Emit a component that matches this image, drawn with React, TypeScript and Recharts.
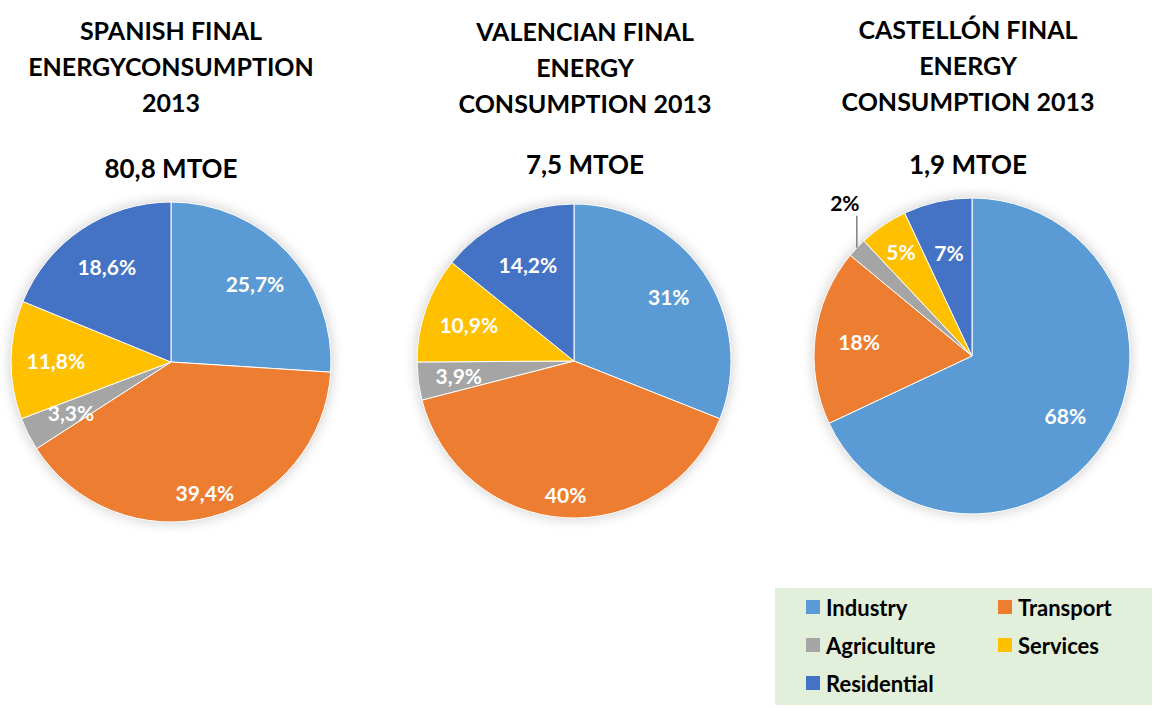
import { Cell, Pie, PieChart } from "recharts";

const categories = ["Industry", "Transport", "Agriculture", "Services", "Residential"];
const colors = ["#5b9bd5", "#ed7d31", "#a5a5a5", "#ffc000", "#4472c4"];

const spainValues = [25.7, 39.4, 3.3, 11.8, 18.6];
const valenciaValues = [31, 40, 3.9, 10.9, 14.2];
const castellonValues = [68, 18, 2, 5, 7];

const spainTitle = ["SPANISH FINAL", "ENERGYCONSUMPTION", "2013"];
const valenciaTitle = ["VALENCIAN FINAL", "ENERGY", "CONSUMPTION 2013"];
const castellonTitle = ["CASTELLÓN FINAL", "ENERGY", "CONSUMPTION 2013"];
const totals = ["80,8 MTOE", "7,5 MTOE", "1,9 MTOE"];

const FONT = "Lato, 'Open Sans', sans-serif";

// layout for each pie: centre, radius, title centre, how far out each label sits
const pies = [
  {
    key: "spain",
    values: spainValues,
    title: spainTitle,
    total: totals[0],
    cx: 171,
    cy: 362,
    r: 160,
    titleX: 171,
    titleTop: 12,
    totalY: 168,
    labelFrac: [0.72, 0.84, 0.7, 0.72, 0.72],
  },
  {
    key: "valencia",
    values: valenciaValues,
    title: valenciaTitle,
    total: totals[1],
    cx: 574,
    cy: 361,
    r: 157,
    titleX: 585,
    titleTop: 13,
    totalY: 164,
    labelFrac: [0.73, 0.85, 0.74, 0.71, 0.68],
  },
  {
    key: "castellon",
    values: castellonValues,
    title: castellonTitle,
    total: totals[2],
    cx: 972,
    cy: 356,
    r: 158,
    titleX: 968,
    titleTop: 11,
    totalY: 164,
    labelFrac: [0.7, 0.72, 1.2, 0.8, 0.67],
  },
];

function formatPct(v: number): string {
  return `${String(v).replace(".", ",")}%`;
}

function makeLabel(values: number[], fracs: number[]) {
  return (props: any) => {
    const { cx, cy, midAngle, outerRadius, index } = props;
    const rad = Math.PI / 180;
    const text = formatPct(values[index]);
    const frac = fracs[index];
    const cos = Math.cos(-midAngle * rad);
    const sin = Math.sin(-midAngle * rad);
    if (frac > 1) {
      const ex = cx + outerRadius * cos;
      const ey = cy + outerRadius * sin;
      return (
        <g key={`lbl-${index}`}>
          <line x1={ex} y1={ey} x2={ex} y2={ey - 32} stroke="#7f7f7f" strokeWidth={1.5} />
          <text
            x={ex - 12}
            y={ey - 45}
            fill="#000"
            fontFamily={FONT}
            fontWeight={700}
            fontSize={21}
            textAnchor="middle"
            dominantBaseline="central"
          >
            {text}
          </text>
        </g>
      );
    }
    const rr = outerRadius * frac;
    return (
      <text
        key={`lbl-${index}`}
        x={cx + rr * cos}
        y={cy + rr * sin}
        fill="#fff"
        fontFamily={FONT}
        fontWeight={700}
        fontSize={21}
        textAnchor="middle"
        dominantBaseline="central"
      >
        {text}
      </text>
    );
  };
}

export default function App() {
  return (
    <div
      style={{
        position: "absolute",
        left: 0,
        top: 0,
        width: 1153,
        height: 709,
        background: "#fff",
        fontFamily: FONT,
      }}
    >
      <PieChart width={1153} height={709} margin={{ top: 0, right: 0, bottom: 0, left: 0 }}>
        <defs>
          <filter id="pieGlow" x="-20%" y="-20%" width="140%" height="140%">
            <feGaussianBlur in="SourceAlpha" stdDeviation="7" />
            <feComponentTransfer>
              <feFuncA type="linear" slope="0.22" />
            </feComponentTransfer>
          </filter>
        </defs>
        {pies.map((p) => (
          <Pie
            key={`glow-${p.key}`}
            data={[{ name: "all", value: 1 }]}
            dataKey="value"
            cx={p.cx}
            cy={p.cy}
            outerRadius={p.r}
            stroke="none"
            isAnimationActive={false}
          >
            <Cell fill="#000" filter="url(#pieGlow)" />
          </Pie>
        ))}
        {pies.map((p) => (
          <Pie
            key={p.key}
            data={categories.map((name, i) => ({ name, value: p.values[i] }))}
            dataKey="value"
            nameKey="name"
            cx={p.cx}
            cy={p.cy}
            outerRadius={p.r}
            startAngle={90}
            endAngle={-270}
            stroke="#fff"
            strokeWidth={1}
            labelLine={false}
            label={makeLabel(p.values, p.labelFrac)}
            isAnimationActive={false}
          >
            {categories.map((name, i) => (
              <Cell key={name} fill={colors[i]} />
            ))}
          </Pie>
        ))}
      </PieChart>

      {pies.map((p) => (
        <div key={`t-${p.key}`}>
          <div
            style={{
              position: "absolute",
              left: p.titleX - 200,
              width: 400,
              top: p.titleTop,
              textAlign: "center",
              fontWeight: 700,
              fontSize: 25,
              lineHeight: "36px",
              color: "#000",
            }}
          >
            {p.title.map((line) => (
              <div key={line}>{line}</div>
            ))}
          </div>
          <div
            style={{
              position: "absolute",
              left: p.titleX - 200,
              width: 400,
              top: p.totalY - 18,
              textAlign: "center",
              fontWeight: 700,
              fontSize: 26,
              lineHeight: "36px",
              color: "#000",
            }}
          >
            {p.total}
          </div>
        </div>
      ))}

      <div
        style={{
          position: "absolute",
          left: 775,
          top: 588,
          width: 377,
          height: 117,
          background: "#e2efda",
        }}
      >
        {categories.map((name, i) => (
          <div
            key={name}
            style={{
              position: "absolute",
              left: i % 2 === 0 ? 31 : 223,
              top: Math.floor(i / 2) * 38 + 4,
              height: 30,
              display: "flex",
              alignItems: "center",
              fontWeight: 700,
              fontSize: 22,
              color: "#000",
            }}
          >
            <span
              style={{
                display: "inline-block",
                width: 14,
                height: 14,
                background: colors[i],
                marginRight: 6,
              }}
            />
            {name}
          </div>
        ))}
      </div>
    </div>
  );
}
